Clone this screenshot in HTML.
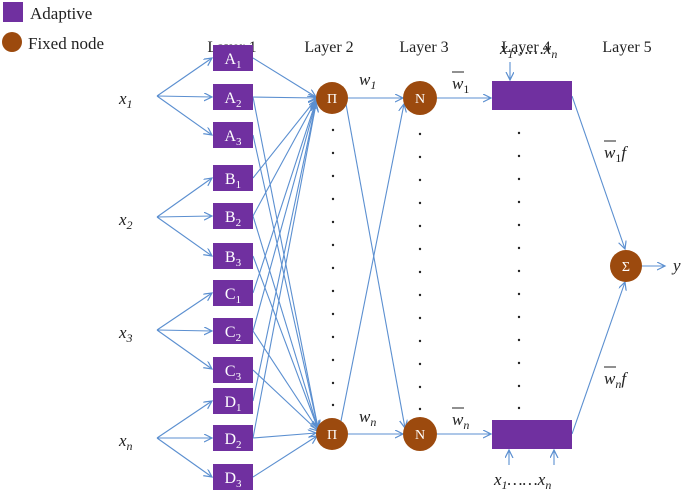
<!DOCTYPE html>
<html><head><meta charset="utf-8"><style>
html,body{margin:0;padding:0;background:#fff;}
svg text{font-family:"Liberation Serif",serif;}
</style></head><body>
<svg width="685" height="494" viewBox="0 0 685 494" xmlns="http://www.w3.org/2000/svg">
<defs>
<marker id="ar" markerWidth="10" markerHeight="10" refX="8" refY="4" orient="auto" markerUnits="userSpaceOnUse">
<path d="M0,0 L8,4 L0,8" fill="none" stroke="#5b8fd0" stroke-width="1.2"/>
</marker>
</defs>
<!-- legend -->
<rect x="3" y="2" width="20" height="20" fill="#7030a0"/>
<text x="30" y="19" font-size="17" fill="#222">Adaptive</text>
<circle cx="12" cy="42" r="10" fill="#9c4a0e"/>
<text x="28" y="49" font-size="17" fill="#222">Fixed node</text>
<!-- layer labels -->
<g font-size="16" fill="#222" text-anchor="middle">
<text x="232" y="52">Layer 1</text>
<text x="329" y="52">Layer 2</text>
<text x="424" y="52">Layer 3</text>
<text x="526" y="52">Layer 4</text>
<text x="627" y="52">Layer 5</text>
</g>
<g stroke="#5b8fd0" stroke-width="1.1" fill="none">
<!-- input fans -->
<line x1="157" y1="96" x2="212" y2="58" marker-end="url(#ar)"/>
<line x1="157" y1="96" x2="212" y2="97" marker-end="url(#ar)"/>
<line x1="157" y1="96" x2="212" y2="135" marker-end="url(#ar)"/>
<line x1="157" y1="217" x2="212" y2="178" marker-end="url(#ar)"/>
<line x1="157" y1="217" x2="212" y2="216" marker-end="url(#ar)"/>
<line x1="157" y1="217" x2="212" y2="256" marker-end="url(#ar)"/>
<line x1="157" y1="330" x2="212" y2="293" marker-end="url(#ar)"/>
<line x1="157" y1="330" x2="212" y2="331" marker-end="url(#ar)"/>
<line x1="157" y1="330" x2="212" y2="369" marker-end="url(#ar)"/>
<line x1="157" y1="438" x2="212" y2="401" marker-end="url(#ar)"/>
<line x1="157" y1="438" x2="212" y2="438" marker-end="url(#ar)"/>
<line x1="157" y1="438" x2="212" y2="477" marker-end="url(#ar)"/>
<!-- to Pi1 -->
<line x1="253" y1="58" x2="316" y2="97" marker-end="url(#ar)"/>
<line x1="253" y1="97" x2="316" y2="98" marker-end="url(#ar)"/>
<line x1="253" y1="178" x2="316" y2="99" marker-end="url(#ar)"/>
<line x1="253" y1="216" x2="316" y2="100" marker-end="url(#ar)"/>
<line x1="253" y1="293" x2="316" y2="101" marker-end="url(#ar)"/>
<line x1="253" y1="331" x2="316" y2="102" marker-end="url(#ar)"/>
<line x1="253" y1="401" x2="316" y2="103" marker-end="url(#ar)"/>
<line x1="253" y1="438" x2="316" y2="104" marker-end="url(#ar)"/>
<!-- to Pi2 -->
<line x1="253" y1="97" x2="318" y2="428" marker-end="url(#ar)"/>
<line x1="253" y1="135" x2="318" y2="428" marker-end="url(#ar)"/>
<line x1="253" y1="216" x2="318" y2="429" marker-end="url(#ar)"/>
<line x1="253" y1="256" x2="318" y2="429" marker-end="url(#ar)"/>
<line x1="253" y1="331" x2="318" y2="430" marker-end="url(#ar)"/>
<line x1="253" y1="370" x2="318" y2="431" marker-end="url(#ar)"/>
<line x1="253" y1="438" x2="316" y2="433" marker-end="url(#ar)"/>
<line x1="253" y1="477" x2="317" y2="436" marker-end="url(#ar)"/>
<!-- layer2 to 3 -->
<line x1="348" y1="98" x2="403" y2="98" marker-end="url(#ar)"/>
<line x1="348" y1="434" x2="403" y2="434" marker-end="url(#ar)"/>
<line x1="346" y1="104" x2="405" y2="428" marker-end="url(#ar)"/>
<line x1="337" y1="441" x2="404" y2="104" marker-end="url(#ar)"/>
<!-- layer3 to 4 -->
<line x1="437" y1="98" x2="491" y2="98" marker-end="url(#ar)"/>
<line x1="437" y1="434" x2="491" y2="434" marker-end="url(#ar)"/>
<!-- x inputs to layer4 -->
<line x1="510" y1="62" x2="510" y2="80" marker-end="url(#ar)"/>
<line x1="509" y1="465" x2="509" y2="450" marker-end="url(#ar)"/>
<line x1="554" y1="465" x2="554" y2="450" marker-end="url(#ar)"/>
<!-- to sigma -->
<line x1="572" y1="96" x2="625" y2="249" marker-end="url(#ar)"/>
<line x1="572" y1="434" x2="625" y2="282" marker-end="url(#ar)"/>
<line x1="642" y1="266" x2="665" y2="266" marker-end="url(#ar)"/>
</g>
<!-- layer1 boxes -->
<g fill="#7030a0">
<rect x="213" y="45" width="40" height="26"/><rect x="213" y="84" width="40" height="26"/><rect x="213" y="122" width="40" height="26"/>
<rect x="213" y="165" width="40" height="26"/><rect x="213" y="203" width="40" height="26"/><rect x="213" y="243" width="40" height="26"/>
<rect x="213" y="280" width="40" height="26"/><rect x="213" y="318" width="40" height="26"/><rect x="213" y="357" width="40" height="26"/>
<rect x="213" y="388" width="40" height="26"/><rect x="213" y="425" width="40" height="26"/><rect x="213" y="464" width="40" height="26"/>
<rect x="492" y="81" width="80" height="29"/><rect x="492" y="420" width="80" height="29"/>
</g>
<g fill="#fff" font-size="16" text-anchor="middle">
<text x="233" y="64">A<tspan font-size="11" dy="4">1</tspan></text>
<text x="233" y="103">A<tspan font-size="11" dy="4">2</tspan></text>
<text x="233" y="141">A<tspan font-size="11" dy="4">3</tspan></text>
<text x="233" y="184">B<tspan font-size="11" dy="4">1</tspan></text>
<text x="233" y="222">B<tspan font-size="11" dy="4">2</tspan></text>
<text x="233" y="262">B<tspan font-size="11" dy="4">3</tspan></text>
<text x="233" y="299">C<tspan font-size="11" dy="4">1</tspan></text>
<text x="233" y="337">C<tspan font-size="11" dy="4">2</tspan></text>
<text x="233" y="376">C<tspan font-size="11" dy="4">3</tspan></text>
<text x="233" y="407">D<tspan font-size="11" dy="4">1</tspan></text>
<text x="233" y="444">D<tspan font-size="11" dy="4">2</tspan></text>
<text x="233" y="483">D<tspan font-size="11" dy="4">3</tspan></text>
</g>
<!-- circles -->
<g fill="#9c4a0e">
<circle cx="332" cy="98" r="16"/><circle cx="332" cy="434" r="16"/>
<circle cx="420" cy="98" r="17"/><circle cx="420" cy="434" r="17"/>
<circle cx="626" cy="266" r="16"/>
</g>
<g fill="#fff" font-family="Liberation Sans, sans-serif" font-size="14" text-anchor="middle" style="font-family:'Liberation Sans',sans-serif">
<text x="332" y="103">Π</text><text x="332" y="439">Π</text>
<text x="420" y="103">N</text><text x="420" y="439">N</text>
<text x="626" y="271">Σ</text>
</g>
<!-- dots -->
<g fill="#222">
<circle cx="333" cy="130" r="1.2"/><circle cx="333" cy="153" r="1.2"/><circle cx="333" cy="176" r="1.2"/><circle cx="333" cy="199" r="1.2"/><circle cx="333" cy="222" r="1.2"/><circle cx="333" cy="245" r="1.2"/><circle cx="333" cy="268" r="1.2"/><circle cx="333" cy="291" r="1.2"/><circle cx="333" cy="314" r="1.2"/><circle cx="333" cy="337" r="1.2"/><circle cx="333" cy="360" r="1.2"/><circle cx="333" cy="383" r="1.2"/><circle cx="333" cy="405" r="1.2"/>
<circle cx="420" cy="134" r="1.2"/><circle cx="420" cy="157" r="1.2"/><circle cx="420" cy="180" r="1.2"/><circle cx="420" cy="203" r="1.2"/><circle cx="420" cy="226" r="1.2"/><circle cx="420" cy="249" r="1.2"/><circle cx="420" cy="272" r="1.2"/><circle cx="420" cy="295" r="1.2"/><circle cx="420" cy="318" r="1.2"/><circle cx="420" cy="341" r="1.2"/><circle cx="420" cy="364" r="1.2"/><circle cx="420" cy="387" r="1.2"/><circle cx="420" cy="409" r="1.2"/>
<circle cx="519" cy="133" r="1.2"/><circle cx="519" cy="156" r="1.2"/><circle cx="519" cy="179" r="1.2"/><circle cx="519" cy="202" r="1.2"/><circle cx="519" cy="225" r="1.2"/><circle cx="519" cy="248" r="1.2"/><circle cx="519" cy="271" r="1.2"/><circle cx="519" cy="294" r="1.2"/><circle cx="519" cy="317" r="1.2"/><circle cx="519" cy="340" r="1.2"/><circle cx="519" cy="363" r="1.2"/><circle cx="519" cy="386" r="1.2"/><circle cx="519" cy="408" r="1.2"/>
</g>
<!-- italic labels -->
<g font-size="17" fill="#222" font-style="italic">
<text x="119" y="104">x<tspan font-size="12" dy="4">1</tspan></text>
<text x="119" y="225">x<tspan font-size="12" dy="4">2</tspan></text>
<text x="119" y="338">x<tspan font-size="12" dy="4">3</tspan></text>
<text x="119" y="446">x<tspan font-size="12" dy="4">n</tspan></text>
<text x="359" y="85">w<tspan font-size="12" dy="4">1</tspan></text>
<text x="359" y="422">w<tspan font-size="12" dy="4">n</tspan></text>
<text x="452" y="89">w<tspan font-size="12" dy="4" font-style="normal">1</tspan></text>
<text x="452" y="425">w<tspan font-size="12" dy="4">n</tspan></text>
<text x="500" y="54">x<tspan font-size="12" dy="4">1</tspan><tspan dy="-4">……x</tspan><tspan font-size="12" dy="4">n</tspan></text>
<text x="494" y="485">x<tspan font-size="12" dy="4">1</tspan><tspan dy="-4">……x</tspan><tspan font-size="12" dy="4">n</tspan></text>
<text x="604" y="158">w<tspan font-size="12" dy="4" font-style="normal">1</tspan><tspan dy="-4">f</tspan></text>
<text x="604" y="384">w<tspan font-size="12" dy="4">n</tspan><tspan dy="-4">f</tspan></text>
<text x="673" y="271">y</text>
</g>
<g stroke="#222" stroke-width="1">
<line x1="452" y1="72" x2="464" y2="72"/><line x1="452" y1="408" x2="464" y2="408"/>
<line x1="604" y1="141" x2="616" y2="141"/><line x1="604" y1="367" x2="616" y2="367"/>
</g>
</svg>
</body></html>
